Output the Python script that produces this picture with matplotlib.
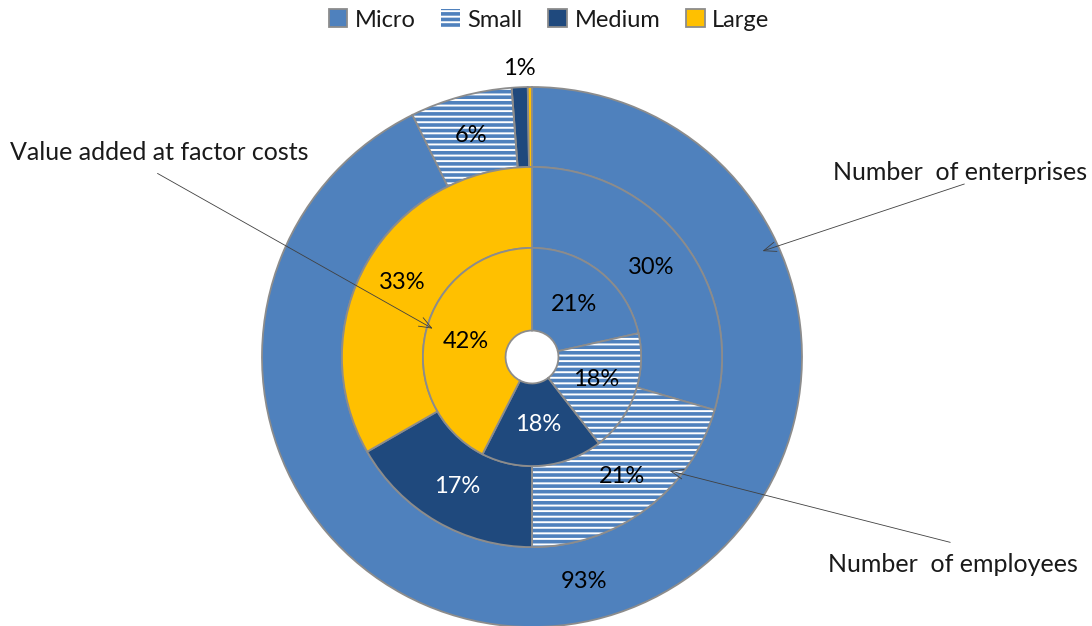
import matplotlib.pyplot as plt
from matplotlib.patches import Wedge, Patch
import numpy as np

# data (percent shares)
sizes = ["Micro", "Small", "Medium", "Large"]
enterprises = [92.7, 6.1, 0.95, 0.25]
employees = [29.5, 20.5, 16.7, 33.3]
value_added = [21.5, 18.0, 18.0, 42.5]

ent_labels = ["93%", "6%", "1%", ""]
emp_labels = ["30%", "21%", "17%", "33%"]
va_labels = ["21%", "18%", "18%", "42%"]

colors = ["#4F81BD", "white", "#1F497D", "#FFC000"]
txt_colors = ["black", "black", "white", "black"]
edge = "#8C8C8C"

plt.rcParams['font.family'] = ['Lato', 'DejaVu Sans']
plt.rcParams['hatch.linewidth'] = 2.6

fig = plt.figure(figsize=(10.92, 6.26), dpi=100)
ax = fig.add_axes([262/1092, -1/626, 540/1092, 540/626])

rings = [(enterprises, ent_labels, 1.0, 0.296),
         (employees, emp_labels, 0.704, 0.300),
         (value_added, va_labels, 0.404, 0.306)]

for vals, labs, r, w in rings:
    wedges, _ = ax.pie(vals, radius=r, colors=colors, startangle=90, counterclock=False,
                       wedgeprops=dict(width=w, edgecolor=edge, linewidth=1.3))
    # small = white with blue horizontal stripes
    sw = wedges[1]
    sw.set_hatch('---')
    sw.set_edgecolor("#4F81BD")
    sw.set_linewidth(0)
    ax.add_patch(Wedge(sw.center, sw.r, sw.theta1, sw.theta2, width=sw.width,
                       fill=False, edgecolor=edge, linewidth=1.3))
    for i, wd in enumerate(wedges):
        if not labs[i]:
            continue
        ang = np.deg2rad((wd.theta1 + wd.theta2) / 2)
        rr = wd.r - wd.width / 2
        c = txt_colors[i]
        if vals is enterprises and i == 2:
            rr = 1.07  # tiny slice: label sits above the ring
            c = "black"
        ax.text(rr * np.cos(ang), rr * np.sin(ang), labs[i], ha='center', va='center',
                fontsize=17, color=c, clip_on=False)

ax.set_xlim(-1, 1)
ax.set_ylim(-1, 1)
ax.axis('off')

# callouts
arrow = dict(arrowstyle='->,head_length=0.9,head_width=0.35', lw=0.6, color='#404040')
ax.annotate('', xy=(-0.359, 0.10), xytext=(-1.396, 0.685), arrowprops=arrow, annotation_clip=False)
ax.annotate('', xy=(0.844, 0.389), xytext=(1.611, 0.644), arrowprops=arrow, annotation_clip=False)
ax.annotate('', xy=(0.50, -0.419), xytext=(1.559, -0.689), arrowprops=arrow, annotation_clip=False)

fig.text(10/1092, 1 - 152/626, "Value added at factor costs", ha='left', va='center',
         fontsize=18, color='#1A1A1A')
fig.text(1087/1092, 1 - 172/626, "Number  of enterprises", ha='right', va='center',
         fontsize=18, color='#1A1A1A')
fig.text(1078/1092, 1 - 565/626, "Number  of employees", ha='right', va='center',
         fontsize=18, color='#1A1A1A')

handles = []
for i, s in enumerate(sizes):
    h = Patch(facecolor=colors[i], edgecolor=edge, linewidth=1.3)
    if s == "Small":
        h = Patch(facecolor="white", edgecolor="#4F81BD", hatch='---', linewidth=0)
    handles.append(h)
fig.legend(handles, sizes, loc='center', bbox_to_anchor=(549/1092, 1 - 20/626), ncol=4,
           frameon=False, handlelength=0.8, handleheight=0.8, handletextpad=0.3,
           columnspacing=1.1, prop=dict(size=17), labelcolor='#1A1A1A')

fig.savefig("out.png", dpi=100)
